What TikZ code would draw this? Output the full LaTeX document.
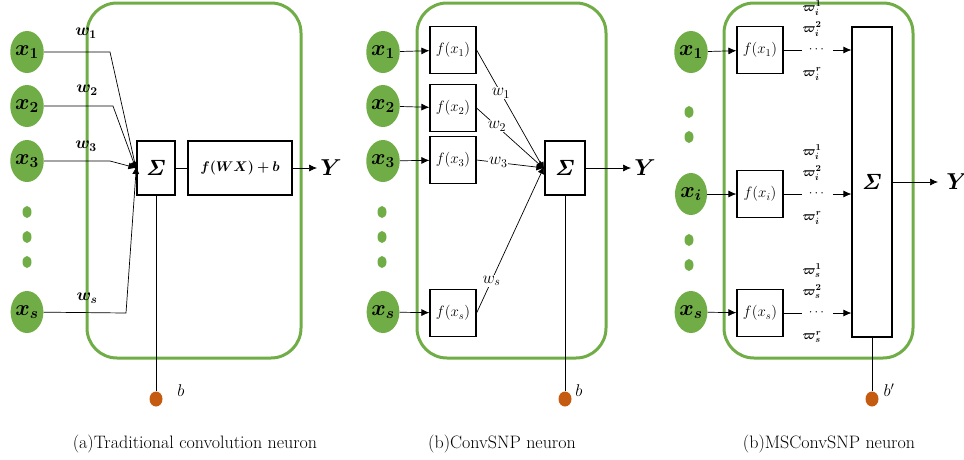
\documentclass[tikz,border=0pt]{standalone}
\usepackage{fix-cm}
\usepackage{amsmath,bm}
\usetikzlibrary{shapes.geometric,arrows.meta,positioning}
\definecolor{leaf}{HTML}{70AD47}
\definecolor{rust}{HTML}{C55A11}
\newcommand{\bsig}{$\bm{\mathit{\Sigma}}$}
\tikzset{
  inp/.style={ellipse,fill=leaf,minimum width=32pt,minimum height=42pt,inner sep=0pt,font=\fontsize{22}{24}\selectfont},
  gdot/.style={ellipse,fill=leaf,minimum width=9pt,minimum height=12pt,inner sep=0pt},
  bias/.style={ellipse,fill=rust,minimum width=13pt,minimum height=15pt,inner sep=0pt},
  cell/.style={draw,line width=1.2pt,fill=white,inner sep=0pt},
  fbox/.style={cell,font=\fontsize{15}{17}\selectfont,minimum width=46pt,minimum height=47pt},
  sumfont/.style={font=\fontsize{22}{24}\selectfont},
  frame/.style={draw=leaf,line width=3pt,rounded corners=30pt},
  wire/.style={line width=0.7pt},
  arr/.style={wire,-{Latex[length=8pt,width=7pt]}},
  lab/.style={font=\fontsize{17}{19}\selectfont,inner sep=1pt},
  wlab/.style={lab,fill=white},
  vlab/.style={font=\fontsize{13}{14}\selectfont,inner sep=0pt},
  ylab/.style={font=\fontsize{23}{25}\selectfont},
  captext/.style={font=\fontsize{18}{20}\selectfont},
}

\begin{document}
\begin{tikzpicture}[x=1pt,y=-1pt]
\useasboundingbox (0,0) rectangle (964,459);

\draw[frame] (87,3) rectangle (301,358);
\draw[frame] (417,3) rectangle (606,358);
\draw[frame] (724,3) rectangle (913,358);

\node[inp] (a1) at (27,52) {$\bm{x_1}$};
\node[inp] (a2) at (27,106) {$\bm{x_2}$};
\node[inp] (a3) at (27,161) {$\bm{x_3}$};
\node[inp] (as) at (27,312) {$\bm{x_s}$};
\foreach \y [count=\i] in {212,237,262}{
\node[gdot] (ad\i) at (27,\y) {};
}
\node[cell,sumfont,minimum width=38pt,minimum height=54pt] (asum) at (156,168) {\bsig};
\node[cell,font=\fontsize{14}{16}\selectfont,minimum width=104pt,minimum height=54pt] (act) at (240,168) {$\bm{f(WX)+b}$};
\node[ylab] (ay) at (331,168) {$\bm{Y}$};
\node[bias] (ab) at (156,399) {};
\node[lab] (abl) at (181,391) {$b$};
\node[lab] (aw1) at (86,33) {$\bm{w_1}$};
\node[lab] (aw2) at (87,90) {$\bm{w_2}$};
\node[lab] (aw3) at (86,146) {$\bm{w_3}$};
\node[lab] (aws) at (87,298) {$\bm{w_s}$};
\node[captext] (acap) at (195,444) {(a)Traditional convolution neuron};

\coordinate (ak1) at (110,52);
\coordinate (ak2) at (113,106);
\coordinate (ak3) at (110,161);
\coordinate (aks) at (126,313);
\coordinate (aY) at (317,168);
\draw[arr] (a1) -- (ak1) -- ([yshift=-2pt]asum.west);
\draw[arr] (a2) -- (ak2) -- ([yshift=-2pt]asum.west);
\draw[arr] (a3) -- (ak3) -- (asum.west);
\draw[arr] (as) -- (aks) -- ([yshift=2pt]asum.west);
\draw[wire] (asum) -- (act);
\draw[arr] (act) -- (aY);
\draw[wire] (asum) -- (ab);

\node[inp] (b1) at (383,52) {$\bm{x_1}$};
\node[inp] (b2) at (383,106) {$\bm{x_2}$};
\node[inp] (b3) at (383,161) {$\bm{x_3}$};
\node[inp] (bs) at (383,312) {$\bm{x_s}$};
\foreach \y [count=\i] in {212,237,262}{
\node[gdot] (bd\i) at (382,\y) {};
}
\foreach \y/\k in {50/1,108/2,160/3,313/s}{
\node[fbox] (bf\k) at (453,\y) {$f(x_\k)$};
}
\node[cell,sumfont,minimum width=40pt,minimum height=54pt] (bsum) at (565,168) {\bsig};
\node[ylab] (by) at (645,168) {$\bm{Y}$};
\node[bias] (bb) at (565,399) {};
\node[lab] (bbl) at (579,391) {$b$};
\node[captext] (bcap) at (502,444) {(b)ConvSNP neuron};

\coordinate (bY) at (631,168);
\foreach \k in {1,2,3,s}{
\draw[arr] (b\k) -- (bf\k);
}
\draw[arr] (bf1.east) -- node[wlab,pos=0.36] (bw1) {$w_1$} ([yshift=-2pt]bsum.west);
\draw[arr] (bf2.east) -- node[wlab,pos=0.3] (bw2) {$w_2$} ([yshift=-1pt]bsum.west);
\draw[arr] (bf3.east) -- node[wlab,pos=0.32] (bw3) {$w_3$} (bsum.west);
\draw[arr] (bfs.east) -- node[wlab,pos=0.22] (bws) {$w_s$} ([yshift=2pt]bsum.west);
\draw[arr] (bsum) -- (bY);
\draw[wire] (bsum) -- (bb);

\node[inp] (c1) at (691,52) {$\bm{x_1}$};
\node[inp] (ci) at (691,194) {$\bm{x_i}$};
\node[inp] (cs) at (691,312) {$\bm{x_s}$};
\foreach \y [count=\i] in {112,137,240,265}{
\node[gdot] (cd\i) at (689,\y) {};
}
\foreach \y/\k in {50/1,194/i,313/s}{
\node[fbox] (cf\k) at (760,\y) {$f(x_\k)$};
}
\node[cell,sumfont,minimum width=40pt,minimum height=310pt] (csum) at (872,182) {\bsig};
\node[ylab] (cy) at (957,182) {$\bm{Y}$};
\node[bias] (cb) at (872,399) {};
\node[lab] (cbl) at (889,390) {$b'$};
\node[captext] (ccap) at (829,444) {(b)MSConvSNP neuron};

\foreach \y/\k/\n in {50/i/1,194/i/i,313/s/s}{
\node[vlab] (cw\n a) at (812,\y-42) {$\bm{\varpi_\k^1}$};
\node[vlab] (cw\n b) at (812,\y-21) {$\bm{\varpi_\k^2}$};
\node[vlab] (cw\n r) at (812,\y+24) {$\bm{\varpi_\k^r}$};
}
\coordinate (cY) at (938,182);
\foreach \k in {1,i,s}{
\draw[arr] (c\k) -- (cf\k);
\draw[arr] (cf\k) -- node[vlab,fill=white,inner xsep=7pt] {$\cdots$} (cf\k -| csum.west);
}
\draw[arr] (csum) -- (cY);
\draw[wire] (csum) -- (cb);
\end{tikzpicture}
\end{document}
